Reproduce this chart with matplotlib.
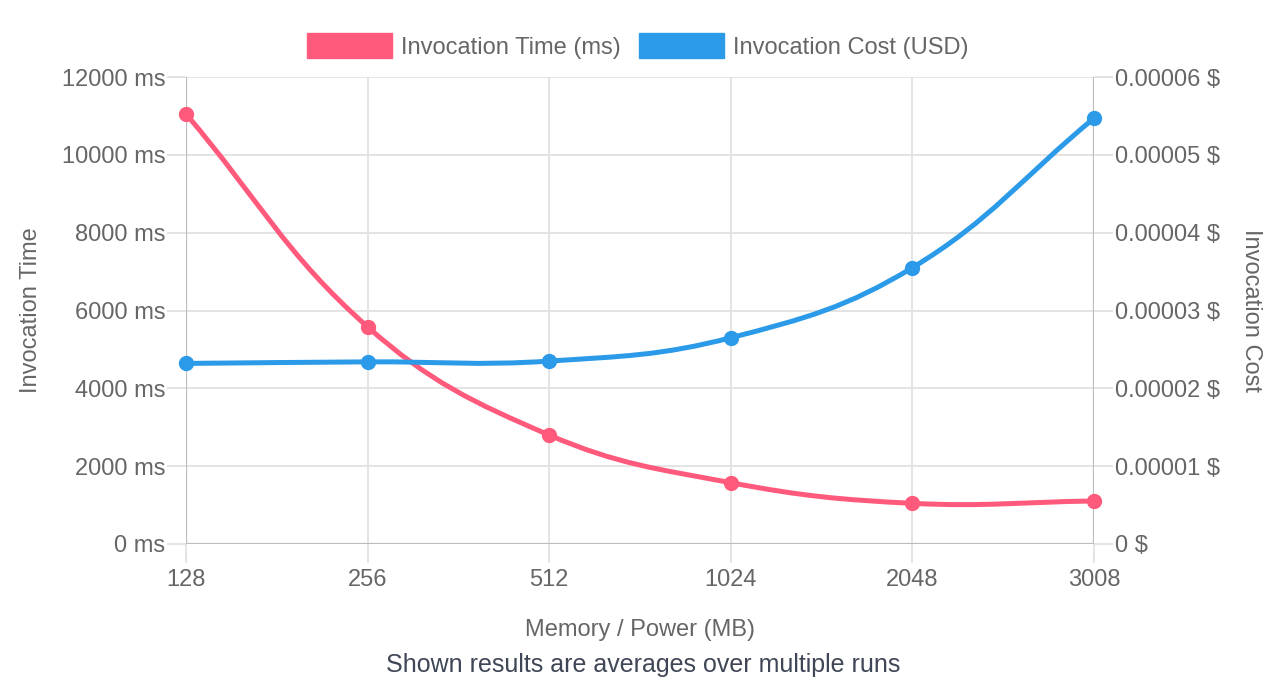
import matplotlib
matplotlib.use("Agg")
import matplotlib.pyplot as plt
import numpy as np
from matplotlib.path import Path
from matplotlib.patches import PathPatch, Patch

memory = ["128", "256", "512", "1024", "2048", "3008"]
time_ms = [11050, 5580, 2800, 1575, 1045, 1105]
cost_usd = [2.32e-5, 2.34e-5, 2.35e-5, 2.65e-5, 3.55e-5, 5.47e-5]

RED = "#ff5a7c"
BLUE = "#2b9ae8"
GRID = "#e2e2e2"
AXIS = "#bdbdbd"
TXT = "#666666"

plt.rcParams["font.family"] = ["Liberation Sans", "DejaVu Sans"]
FS = 17


def spline_path(ax, xs, ys, tension=0.4):
    # chart.js style bezier, computed in pixel space
    pts = ax.transData.transform(np.column_stack([xs, ys]))
    n = len(pts)
    verts = [pts[0]]
    codes = [Path.MOVETO]
    cps = []
    for i in range(n):
        prev = pts[max(i - 1, 0)]
        cur = pts[i]
        nxt = pts[min(i + 1, n - 1)]
        d01 = np.hypot(*(cur - prev))
        d12 = np.hypot(*(nxt - cur))
        tot = d01 + d12
        s01 = d01 / tot if tot else 0
        s12 = d12 / tot if tot else 0
        fa = tension * s01
        fb = tension * s12
        cps.append((cur - fa * (nxt - prev), cur + fb * (nxt - prev)))
    for i in range(1, n):
        verts += [cps[i - 1][1], cps[i][0], pts[i]]
        codes += [Path.CURVE4] * 3
    verts = ax.transData.inverted().transform(np.array(verts))
    return Path(verts, codes)


fig = plt.figure(figsize=(12.86, 6.94), dpi=100)
ax = fig.add_axes([186 / 1286, 1 - 544 / 694, (1094 - 186) / 1286, (544 - 77) / 694])
ax2 = ax.twinx()

x = np.arange(len(memory))
ax.set_xlim(0, len(memory) - 1)
ax.set_ylim(0, 12000)
ax2.set_ylim(0, 6e-5)

ax.set_yticks(np.arange(0, 12001, 2000))
ax.set_yticklabels([f"{v} ms" for v in range(0, 12001, 2000)])
ax2.set_yticks(np.arange(0, 7) * 1e-5)
ax2.set_yticklabels(["0 $"] + [f"{v * 1e-5:.5f} $" for v in range(1, 7)])
ax.set_xticks(x)
ax.set_xticklabels(memory)

ax.grid(True, color=GRID, linewidth=1.3)
ax.set_axisbelow(True)
for a in (ax, ax2):
    for s in a.spines.values():
        s.set_visible(False)
    a.tick_params(length=14, width=1.3, color=GRID, labelcolor=TXT, labelsize=FS, pad=1)
ax.tick_params(axis="x", pad=4)
ax.axvline(0, color=AXIS, lw=1.6, zorder=1)
ax.axvline(len(memory) - 1, color=AXIS, lw=1.6, zorder=1)
ax.axhline(0, color=AXIS, lw=1.6, zorder=1)

ax.set_ylabel("Invocation Time", color=TXT, fontsize=FS, labelpad=14)
ax2.set_ylabel("Invocation Cost", color=TXT, fontsize=FS, rotation=270, labelpad=30)
ax.set_xlabel("Memory / Power (MB)", color=TXT, fontsize=FS, labelpad=20)

fig.canvas.draw()
ax.add_patch(PathPatch(spline_path(ax, x, time_ms), fill=False, edgecolor=RED, lw=3.6, zorder=3))
ax.plot(x, time_ms, "o", color=RED, ms=10, zorder=4, clip_on=False)
ax2.add_patch(PathPatch(spline_path(ax2, x, cost_usd), fill=False, edgecolor=BLUE, lw=3.6, zorder=3))
ax2.plot(x, cost_usd, "o", color=BLUE, ms=10, zorder=4, clip_on=False)

handles = [Patch(facecolor=RED, edgecolor=RED), Patch(facecolor=BLUE, edgecolor=BLUE)]
leg = fig.legend(handles, ["Invocation Time (ms)", "Invocation Cost (USD)"],
                 loc="center", bbox_to_anchor=(0.496, 1 - 46 / 694), ncol=2, frameon=False,
                 fontsize=FS, handlelength=3.6, handleheight=1.25, handletextpad=0.4,
                 columnspacing=0.75)
for t in leg.get_texts():
    t.set_color(TXT)

fig.text(0.5, 1 - 665 / 694, "Shown results are averages over multiple runs",
         ha="center", va="center", fontsize=18, color="#3f4656")

fig.savefig("out.png", dpi=100)
